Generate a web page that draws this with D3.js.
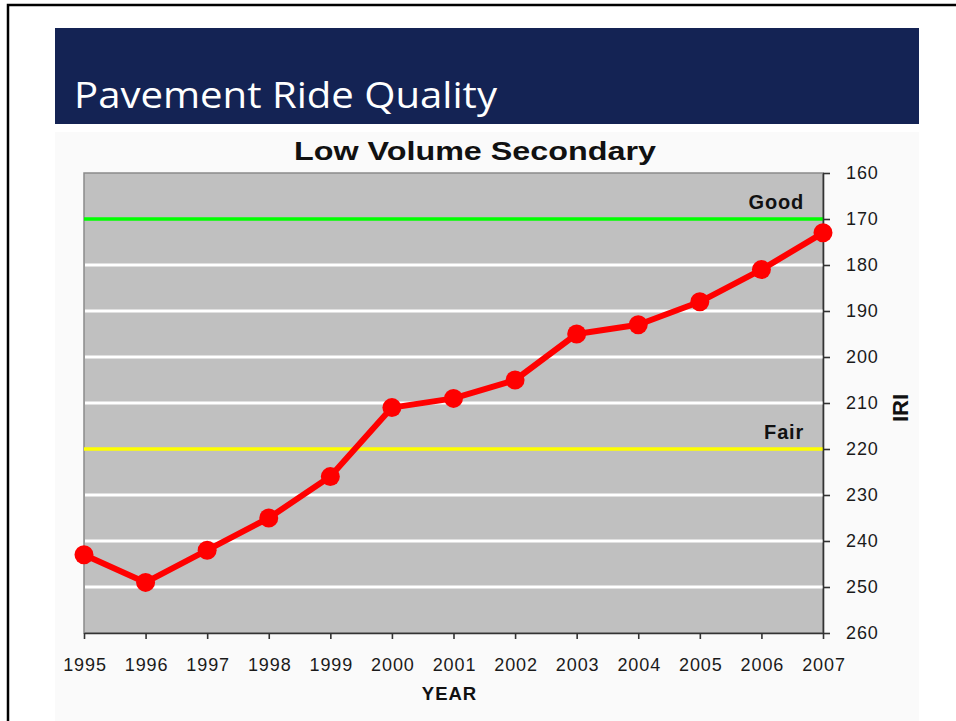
<!DOCTYPE html>
<html>
<head>
<meta charset="utf-8">
<script src="https://cdn.jsdelivr.net/npm/d3@7"></script>
<style>
  html, body { margin: 0; padding: 0; background: #fff; }
  svg { display: block; }
  .axis text { font-family: 'Liberation Sans', Arial, sans-serif; fill: #1a1a1a; }
</style>
</head>
<body>
<div id="vis"></div>
<script>
const years = [1995, 1996, 1997, 1998, 1999, 2000, 2001, 2002, 2003, 2004, 2005, 2006, 2007];
const iri = [243, 249, 242, 235, 226, 211, 209, 205, 195, 193, 188, 181, 173];
const yTicks = [160, 170, 180, 190, 200, 210, 220, 230, 240, 250, 260];
const gridValues = [180, 190, 200, 210, 230, 240, 250];
const thresholds = [
  {label: 'Good', value: 170, color: '#00ff00'},
  {label: 'Fair', value: 220, color: '#ffff00'},
];

const width = 956;
const height = 721;
const margin = {top: 173, right: 133, bottom: 88, left: 84};

const svg = d3.select('#vis').append('svg')
    .attr('width', width)
    .attr('height', height);

// slide frame + banner
svg.append('rect')
    .attr('x', 55).attr('y', 132)
    .attr('width', 864).attr('height', 600)
    .attr('fill', '#fafafa');

svg.append('rect')
    .attr('x', 8).attr('y', 5)
    .attr('width', 1000).attr('height', 1000)
    .attr('fill', 'none')
    .attr('stroke', '#000')
    .attr('stroke-width', 2.5);

svg.append('rect')
    .attr('x', 55).attr('y', 28)
    .attr('width', 864).attr('height', 96)
    .attr('fill', '#142354');

svg.append('text')
    .attr('x', 74)
    .attr('y', 107.5)
    .attr('fill', '#fff')
    .attr('font-family', "'Open Sans', 'Noto Sans', sans-serif")
    .attr('font-size', 36)
    .attr('textLength', 423)
    .attr('lengthAdjust', 'spacingAndGlyphs')
    .text('Pavement Ride Quality');

const x = d3.scaleLinear()
    .domain(d3.extent(years))
    .range([margin.left, width - margin.right]);

const y = d3.scaleLinear()
    .domain([160, 260])
    .range([margin.top, height - margin.bottom]);

// chart title
svg.append('text')
    .attr('x', 294)
    .attr('y', 160)
    .attr('font-family', "'Liberation Sans', Arial, sans-serif")
    .attr('font-weight', 'bold')
    .attr('font-size', 25.5)
    .attr('textLength', 362)
    .attr('lengthAdjust', 'spacingAndGlyphs')
    .attr('fill', '#111')
    .text('Low Volume Secondary');

// plot area
svg.append('rect')
    .attr('x', x.range()[0])
    .attr('y', y.range()[0])
    .attr('width', x.range()[1] - x.range()[0])
    .attr('height', y.range()[1] - y.range()[0])
    .attr('fill', '#c0c0c0')
    .attr('stroke', '#8a8a8a')
    .attr('stroke-width', 1.5);

svg.append('g')
  .selectAll('line')
  .data(gridValues)
  .join('line')
    .attr('x1', x.range()[0] + 1)
    .attr('x2', x.range()[1])
    .attr('y1', d => y(d))
    .attr('y2', d => y(d))
    .attr('stroke', '#fff')
    .attr('stroke-width', 3);

const thr = svg.append('g')
  .selectAll('g')
  .data(thresholds)
  .join('g');

thr.append('line')
    .attr('x1', x.range()[0])
    .attr('x2', x.range()[1])
    .attr('y1', d => y(d.value))
    .attr('y2', d => y(d.value))
    .attr('stroke', d => d.color)
    .attr('stroke-width', 3.5);

thr.append('text')
    .attr('x', x.range()[1] - 19)
    .attr('y', d => y(d.value) - 10)
    .attr('text-anchor', 'end')
    .attr('font-family', "'Liberation Sans', Arial, sans-serif")
    .attr('font-weight', 'bold')
    .attr('font-size', 20)
    .attr('letter-spacing', 0.8)
    .attr('fill', '#111')
    .text(d => d.label);

// axes
const yAxis = svg.append('g')
    .attr('class', 'axis')
    .attr('transform', `translate(${x.range()[1]},0)`)
    .call(d3.axisRight(y).tickValues(yTicks).tickSize(7).tickSizeOuter(0).tickPadding(16));

const xAxis = svg.append('g')
    .attr('class', 'axis')
    .attr('transform', `translate(0,${y.range()[1]})`)
    .call(d3.axisBottom(x).tickValues(years).tickFormat(d3.format('d'))
      .tickSize(6).tickSizeOuter(0).tickPadding(19));

[yAxis, xAxis].forEach(g => {
  g.selectAll('text')
      .attr('font-size', 18)
      .attr('letter-spacing', 0.9);
  g.selectAll('path, line')
      .attr('stroke', '#333')
      .attr('stroke-width', 1.6);
});
xAxis.selectAll('text').attr('dx', 0.5);

svg.append('text')
    .attr('x', (x.range()[0] + x.range()[1]) / 2 - 4)
    .attr('y', 700)
    .attr('text-anchor', 'middle')
    .attr('font-family', "'Liberation Sans', Arial, sans-serif")
    .attr('font-weight', 'bold')
    .attr('font-size', 18.5)
    .attr('letter-spacing', 1)
    .attr('fill', '#111')
    .text('YEAR');

svg.append('text')
    .attr('transform', `translate(908,${(y.range()[0] + y.range()[1]) / 2 + 5}) rotate(-90)`)
    .attr('text-anchor', 'middle')
    .attr('font-family', "'Liberation Sans', Arial, sans-serif")
    .attr('font-weight', 'bold')
    .attr('font-size', 22)
    .attr('fill', '#111')
    .text('IRI');

// series
const line = d3.line()
    .x((d, i) => x(years[i]))
    .y(d => y(d));

svg.append('path')
    .datum(iri)
    .attr('d', line)
    .attr('fill', 'none')
    .attr('stroke', '#ff0000')
    .attr('stroke-width', 6)
    .attr('stroke-linejoin', 'round');

svg.append('g')
  .selectAll('circle')
  .data(iri)
  .join('circle')
    .attr('cx', (d, i) => x(years[i]))
    .attr('cy', d => y(d))
    .attr('r', 9.5)
    .attr('fill', '#ff0000');
</script>
</body>
</html>
